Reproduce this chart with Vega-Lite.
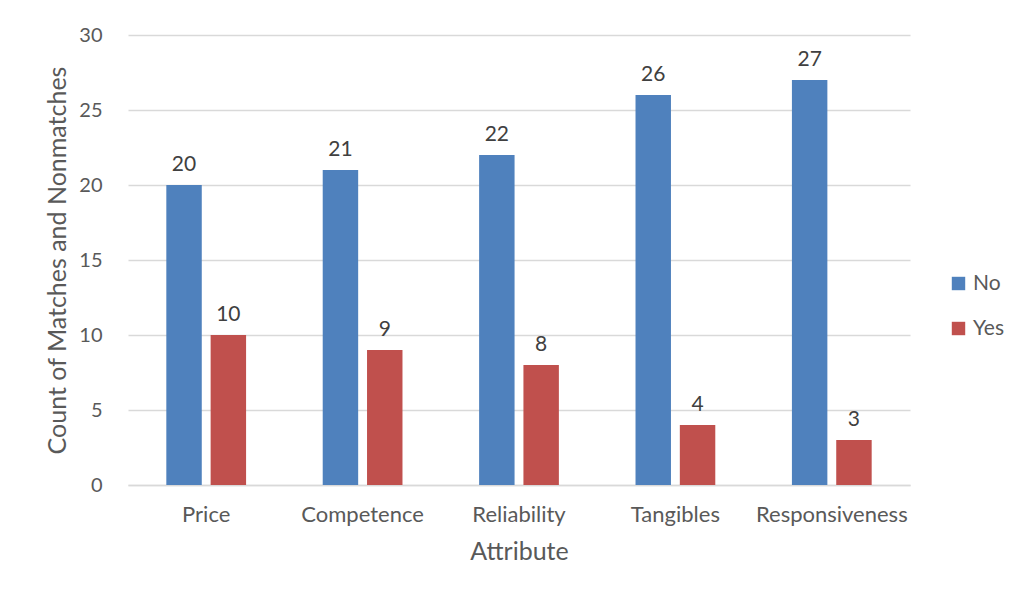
{
  "$schema": "https://vega.github.io/schema/vega-lite/v6.json",
  "width": 782,
  "height": 450,
  "autosize": "none",
  "padding": {"left": 128, "top": 35, "right": 108, "bottom": 113},
  "background": "white",
  "config": {
    "font": "Lato",
    "view": {"stroke": null},
    "axis": {"labelColor": "#595959", "titleColor": "#595959", "titleFontWeight": "normal", "labelFont": "Lato", "titleFont": "Lato"}
  },
  "data": {
    "values": [
      {"Attribute": "Price", "Match": "No", "Count": 20},
      {"Attribute": "Price", "Match": "Yes", "Count": 10},
      {"Attribute": "Competence", "Match": "No", "Count": 21},
      {"Attribute": "Competence", "Match": "Yes", "Count": 9},
      {"Attribute": "Reliability", "Match": "No", "Count": 22},
      {"Attribute": "Reliability", "Match": "Yes", "Count": 8},
      {"Attribute": "Tangibles", "Match": "No", "Count": 26},
      {"Attribute": "Tangibles", "Match": "Yes", "Count": 4},
      {"Attribute": "Responsiveness", "Match": "No", "Count": 27},
      {"Attribute": "Responsiveness", "Match": "Yes", "Count": 3}
    ]
  },
  "encoding": {
    "x": {
      "field": "Attribute",
      "type": "nominal",
      "sort": ["Price", "Competence", "Reliability", "Tangibles", "Responsiveness"],
      "scale": {"paddingInner": 0.49, "paddingOuter": 0.245},
      "axis": {"labelAngle": 0, "ticks": false, "domain": true, "domainColor": "#d9d9d9", "domainWidth": 1.5, "labelPadding": 19, "titlePadding": 14, "title": "Attribute", "labelFontSize": 22, "titleFontSize": 25}
    },
    "xOffset": {"field": "Match", "type": "nominal", "scale": {"paddingInner": 0.2, "paddingOuter": 0}},
    "y": {
      "field": "Count",
      "type": "quantitative",
      "scale": {"domain": [0, 30]},
      "axis": {"values": [0, 5, 10, 15, 20, 25, 30], "domain": false, "ticks": false, "gridColor": "#d9d9d9", "gridWidth": 1.3, "labelPadding": 26, "titlePadding": 8, "title": "Count of Matches and Nonmatches", "labelFontSize": 20, "titleFontSize": 25}
    }
  },
  "layer": [
    {
      "mark": {"type": "bar"},
      "encoding": {
        "color": {
          "field": "Match",
          "type": "nominal",
          "scale": {"domain": ["No", "Yes"], "range": ["#4f81bd", "#c0504d"]},
          "legend": {
            "title": null,
            "orient": "none",
            "legendX": 820,
            "legendY": 238,
            "symbolType": "square",
            "symbolSize": 180,
            "symbolStrokeWidth": 0,
            "labelFont": "Lato",
            "labelFontSize": 21,
            "labelColor": "#595959",
            "labelOffset": 4,
            "rowPadding": 23
          }
        }
      }
    },
    {
      "mark": {"type": "text", "baseline": "bottom", "dy": -10, "fontSize": 21, "font": "Lato", "color": "#404040"},
      "encoding": {"text": {"field": "Count", "type": "quantitative"}}
    }
  ]
}
